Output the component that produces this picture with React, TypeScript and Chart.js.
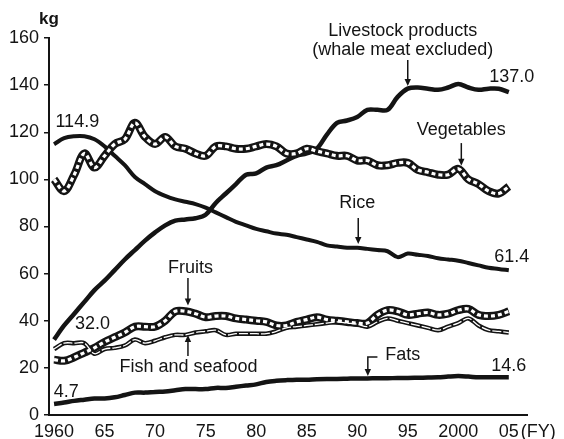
import React, { useEffect, useRef } from "react";
import { Chart, registerables } from "chart.js";

Chart.register(...registerables);

// ---- data (kg per person per year) ----
const years = [
  1960, 1961, 1962, 1963, 1964, 1965, 1966, 1967, 1968, 1969,
  1970, 1971, 1972, 1973, 1974, 1975, 1976, 1977, 1978, 1979,
  1980, 1981, 1982, 1983, 1984, 1985, 1986, 1987, 1988, 1989,
  1990, 1991, 1992, 1993, 1994, 1995, 1996, 1997, 1998, 1999,
  2000, 2001, 2002, 2003, 2004, 2005,
];

const rice = [
  114.9, 117.5, 118.3, 118.3, 117, 114, 110, 106, 101, 98,
  95, 93, 91.5, 90.5, 89.5, 88, 86, 84, 82, 80.5,
  79, 78, 77, 76.5, 75.5, 74.5, 73.5, 72, 71.5, 71,
  71, 70.5, 70, 69.5, 67, 68.5, 68, 67.5, 66.5, 66,
  65.5, 64.5, 63.5, 62.5, 62, 61.4,
];

const livestock = [
  32.0, 38, 43, 48, 53, 57, 61.5, 66, 70, 74,
  77.5, 80.5, 82.5, 83, 83.5, 85, 90, 94, 98, 102,
  102.5, 105, 106, 108, 110, 111, 113, 119, 124, 125,
  126.5, 129.5, 129.5, 129.5, 135, 138.5, 139, 138.5, 138, 139,
  140.5, 139, 138, 138.5, 138.5, 137.0,
];

const vegetables = [
  100, 95, 102, 111, 105, 110, 115, 117, 124, 118,
  115, 118, 114, 113, 111, 110, 114, 114, 113, 113,
  114, 115, 114, 111, 111, 113, 112, 111, 110, 110,
  108, 108, 106, 106, 107, 107, 104, 103, 102, 102,
  104.5, 100, 98, 95, 94, 97,
];

const fruits = [
  23.5, 23, 24.5, 26.5, 28.5, 31, 33, 35, 37.5, 37.5,
  37.5, 40, 44, 44, 43, 41.5, 42, 42, 41, 40.5,
  40, 39.5, 38, 38, 39.5, 40.5, 41.5, 40.5, 40, 39.5,
  39, 39, 42.5, 44.5, 44, 42.5, 43, 43.5, 42.5, 43,
  44.5, 45, 42.5, 42, 42.5, 44,
];

const fish = [
  28, 30.5, 30.5, 30.5, 26, 28, 28.5, 29.5, 32, 30.5,
  31.5, 33, 34, 34, 35, 35.5, 36, 34, 34.5, 34.5,
  34.5, 34.5, 35.5, 37, 37.5, 38, 38.5, 39, 39.5, 39,
  38.5, 37.5, 39.5, 41, 40, 39, 38, 37, 36, 37.5,
  39, 41, 38, 36, 35.5, 35,
];

const fats = [
  4.7, 5.3, 6, 6.5, 7, 7, 7.5, 8.5, 9.5, 9.5,
  9.8, 10, 10.5, 11, 11, 11, 11.5, 11.5, 12, 12.5,
  13, 14, 14.5, 14.8, 15, 15, 15.2, 15.3, 15.3, 15.4,
  15.5, 15.5, 15.6, 15.6, 15.7, 15.7, 15.8, 15.9, 16, 16.3,
  16.5, 16.3, 16, 16, 16, 16,
];

const xTickYears = [1960, 1965, 1970, 1975, 1980, 1985, 1990, 1995, 2000, 2005];
const xTickLabels = ["1960", "65", "70", "75", "80", "85", "90", "95", "2000", "05"];
const yTicks = [0, 20, 40, 60, 80, 100, 120, 140, 160];

// text notes, placed in data coordinates (year, kg)
const notes: { text: string; x: number; y: number; bold?: boolean }[] = [
  { text: "kg", x: 1959.5, y: 168, bold: true },
  { text: "114.9", x: 1962.3, y: 124.4 },
  { text: "Livestock products", x: 1994.5, y: 163 },
  { text: "(whale meat excluded)", x: 1994.5, y: 155 },
  { text: "137.0", x: 2005.3, y: 143.5 },
  { text: "Vegetables", x: 2000.3, y: 121 },
  { text: "Rice", x: 1990, y: 90 },
  { text: "61.4", x: 2005.3, y: 67 },
  { text: "Fruits", x: 1973.5, y: 62.4 },
  { text: "32.0", x: 1963.8, y: 38.6 },
  { text: "Fish and seafood", x: 1973.3, y: 20.4 },
  { text: "4.7", x: 1961.2, y: 9.8 },
  { text: "Fats", x: 1994.5, y: 25.5 },
  { text: "14.6", x: 2005, y: 20.8 },
];

// pointer arrows: vertical from y1 to y2 at year x; optional horizontal hook start hx
const arrows: { x: number; y1: number; y2: number; hx?: number }[] = [
  { x: 1995.0, y1: 150.7, y2: 139.6 },
  { x: 2000.3, y1: 115.4, y2: 105.8 },
  { x: 1990.1, y1: 83.6, y2: 72.6 },
  { x: 1973.25, y1: 58.1, y2: 46.5 },
  { x: 1973.25, y1: 25, y2: 34 },
  { x: 1991.05, y1: 24.6, y2: 16.6, hx: 1992.0 },
];

const FONT = "'Liberation Sans', Arial, Helvetica, sans-serif";
const INK = "#141414";
const FS = 18;

const pts = (vals: number[]) => years.map((y, i) => ({ x: y, y: vals[i] }));

const annotate = {
  id: "annotate",
  afterDatasetsDraw(chart: any) {
    const { ctx, scales } = chart;
    const xs = scales.x;
    const ys = scales.y;
    ctx.save();
    ctx.fillStyle = INK;
    ctx.strokeStyle = INK;
    ctx.textAlign = "center";
    ctx.textBaseline = "middle";
    for (const n of notes) {
      ctx.font = `${n.bold ? "bold " : ""}${n.bold ? 17 : FS}px ${FONT}`;
      ctx.fillText(n.text, xs.getPixelForValue(n.x), ys.getPixelForValue(n.y));
    }
    ctx.lineWidth = 1.5;
    for (const a of arrows) {
      const px = xs.getPixelForValue(a.x);
      const p1 = ys.getPixelForValue(a.y1);
      const p2 = ys.getPixelForValue(a.y2);
      ctx.beginPath();
      if (a.hx !== undefined) {
        ctx.moveTo(xs.getPixelForValue(a.hx), p1);
        ctx.lineTo(px, p1);
      } else {
        ctx.moveTo(px, p1);
      }
      const dir = p2 > p1 ? 1 : -1;
      ctx.lineTo(px, p2 - dir * 6);
      ctx.stroke();
      ctx.beginPath();
      ctx.moveTo(px, p2);
      ctx.lineTo(px - 3.2, p2 - dir * 7);
      ctx.lineTo(px + 3.2, p2 - dir * 7);
      ctx.closePath();
      ctx.fill();
    }
    // "(FY)" after the last x tick label
    ctx.font = `${FS}px ${FONT}`;
    const lastX = xs.getPixelForValue(xTickYears[xTickYears.length - 1]);
    const w05 = ctx.measureText(xTickLabels[xTickLabels.length - 1]).width;
    ctx.textAlign = "left";
    const ly = xs.top + 17;
    ctx.fillText("(FY)", lastX + w05 / 2 + 2, ly);
    ctx.restore();
  },
};

export default function App() {
  const ref = useRef<HTMLCanvasElement | null>(null);

  useEffect(() => {
    if (!ref.current) return;
    const solid = (vals: number[], w: number) => ({
      data: pts(vals),
      borderColor: INK,
      borderWidth: w,
      pointRadius: 0,
      tension: 0.35,
      fill: false,
      order: 2,
    });
    const overlay = (vals: number[], w: number, dash: number[]) => ({
      data: pts(vals),
      borderColor: "#ffffff",
      borderWidth: w,
      borderDash: dash,
      pointRadius: 0,
      tension: 0.35,
      fill: false,
      order: 1,
    });

    const chart = new Chart(ref.current, {
      type: "line",
      data: {
        datasets: [
          { label: "Rice", ...solid(rice, 4) },
          { label: "Livestock products", ...solid(livestock, 4.5) },
          { label: "Vegetables", ...solid(vegetables, 8) },
          { label: "Vegetables inner", ...overlay(vegetables, 3.2, [4, 3]) },
          { label: "Fruits", ...solid(fruits, 8) },
          { label: "Fruits inner", ...overlay(fruits, 3.2, [4, 3]) },
          { label: "Fish and seafood", ...solid(fish, 4.5) },
          { label: "Fish inner", ...overlay(fish, 1.3, [9, 2]) },
          { label: "Fats", ...solid(fats, 4.5) },
        ] as any,
      },
      options: {
        animation: false,
        responsive: false,
        devicePixelRatio: 1,
        layout: { padding: { left: 0, top: 38, right: 37, bottom: 0 } },
        plugins: { legend: { display: false }, tooltip: { enabled: false } },
        scales: {
          x: {
            type: "linear",
            min: 1959.5,
            max: 2006.8,
            afterBuildTicks: (s: any) => {
              s.ticks = xTickYears.map((v) => ({ value: v }));
            },
            afterFit: (s: any) => {
              s.height = 24;
            },
            grid: { display: false, drawTicks: false },
            border: { display: true, color: INK, width: 2 },
            ticks: {
              autoSkip: false,
              maxRotation: 0,
              padding: 6,
              color: INK,
              font: { family: FONT, size: FS },
              callback: (v: any) => {
                const i = xTickYears.indexOf(Number(v));
                return i >= 0 ? xTickLabels[i] : "";
              },
            },
          },
          y: {
            min: 0,
            max: 160,
            afterBuildTicks: (s: any) => {
              s.ticks = yTicks.map((v) => ({ value: v }));
            },
            afterFit: (s: any) => {
              s.width = 49;
            },
            grid: {
              drawOnChartArea: false,
              drawTicks: true,
              tickLength: 5,
              color: INK,
              lineWidth: 1.5,
            },
            border: { display: true, color: INK, width: 2 },
            ticks: {
              padding: 5,
              color: INK,
              font: { family: FONT, size: FS },
            },
          },
        },
      } as any,
      plugins: [annotate],
    });
    return () => chart.destroy();
  }, []);

  return (
    <div style={{ position: "absolute", left: 0, top: 0, width: 564, height: 439, background: "#fff" }}>
      <canvas ref={ref} width={564} height={439} />
    </div>
  );
}
